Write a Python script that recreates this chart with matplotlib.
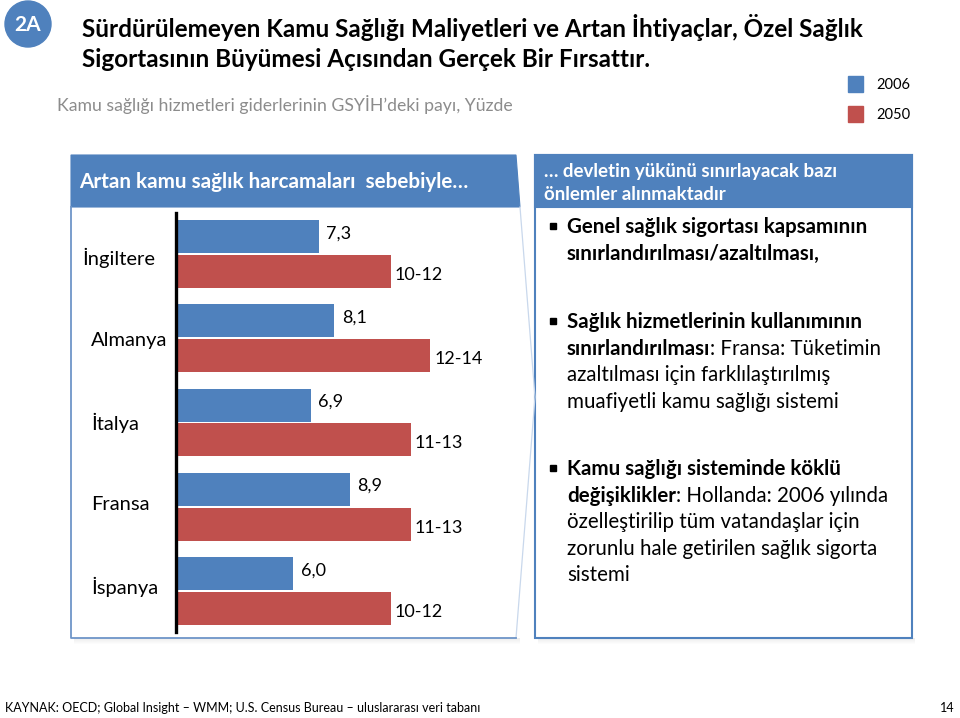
import matplotlib.pyplot as plt
from matplotlib.patches import Rectangle, Circle, Polygon
import numpy as np

plt.rcParams['font.family'] = ['Lato', 'DejaVu Sans']

# ====== data ======
countries = ["İngiltere", "Almanya", "İtalya", "Fransa", "İspanya"]
val_2006 = [7.3, 8.1, 6.9, 8.9, 6.0]
lbl_2006 = ["7,3", "8,1", "6,9", "8,9", "6,0"]
lo_2050 = [10, 12, 11, 11, 10]     # 2050 ranges -> bar drawn at midpoint
hi_2050 = [12, 14, 13, 13, 12]
years = ["2006", "2050"]

BLUE = "#4F81BD"
RED = "#C0504D"
W, H = 960, 718

fig = plt.figure(figsize=(W / 100, H / 100), dpi=100)
fig.patch.set_facecolor("white")

# full-page axes in pixel coordinates for all the decoration
bg = fig.add_axes([0, 0, 1, 1], zorder=0)
bg.set_xlim(0, W)
bg.set_ylim(H, 0)
bg.axis("off")

# ====== badge + title ======
bg.add_patch(Circle((28, 24), 23, color=BLUE))
bg.text(28, 25, "2A", color="white", fontsize=15, fontweight="bold",
        ha="center", va="center")
bg.text(82, 37, "Sürdürülemeyen Kamu Sağlığı Maliyetleri ve Artan İhtiyaçlar, Özel Sağlık",
        fontsize=17.5, fontweight="bold", va="baseline")
bg.text(82, 67, "Sigortasının Büyümesi Açısından Gerçek Bir Fırsattır.",
        fontsize=17.5, fontweight="bold", va="baseline")
bg.text(57, 104, "Kamu sağlığı hizmetleri giderlerinin GSYİH’deki payı, Yüzde",
        fontsize=12.7, color="#8C8C8C", va="center")

# ====== legend ======
for i, (yr, c) in enumerate(zip(years, [BLUE, RED])):
    y0 = 76 + i * 30
    bg.add_patch(Rectangle((848, y0), 15, 16, color=c))
    bg.text(876, y0 + 9, yr, fontsize=10.5, va="center")

# ====== panels ======
def shadow(x, y, w, h):
    for k in range(6):
        bg.add_patch(Rectangle((x + 3, y + h + k), w, 1, color="#000000",
                               alpha=0.07 * (6 - k) / 6, lw=0))

shadow(71, 155, 446, 483)
shadow(535, 155, 377, 483)

bg.add_patch(Polygon([(71, 207), (520, 207), (535, 397), (516, 638), (71, 638)],
                     closed=True, fc="white", ec="none"))
bg.plot([520, 535, 516], [207, 397, 638], color="#C9D8EC", lw=0.9)
bg.plot([71, 71, 516], [207, 638, 638], color="#6E95C8", lw=1.3)
bg.add_patch(Polygon([(71, 155), (516, 155), (520, 207), (71, 207)],
                     closed=True, fc=BLUE, ec=BLUE, lw=0.8))
bg.text(79, 182, "Artan kamu sağlık harcamaları  sebebiyle…", color="white",
        fontsize=14.9, fontweight="bold", va="center")

bg.add_patch(Rectangle((535, 155), 377, 483, fc="white", ec=BLUE, lw=1.5))
bg.add_patch(Rectangle((535, 155), 377, 52, fc=BLUE, ec=BLUE, lw=1.5))
bg.text(544, 171, "… devletin yükünü sınırlayacak bazı", color="white",
        fontsize=13.5, fontweight="bold", va="center")
bg.text(544, 194, "önlemler alınmaktadır", color="white",
        fontsize=13.5, fontweight="bold", va="center")

# ====== bullets (bold part, regular part) per line ======
bullets = [
    (233, [("Genel sağlık sigortası kapsamının", ""),
           ("sınırlandırılması/azaltılması,", "")]),
    (328, [("Sağlık hizmetlerinin kullanımının", ""),
           ("sınırlandırılması", ": Fransa: Tüketimin"),
           ("", "azaltılması için farklılaştırılmış"),
           ("", "muafiyetli kamu sağlığı sistemi")]),
    (475, [("Kamu sağlığı sisteminde köklü", ""),
           ("değişiklikler", ": Hollanda: 2006 yılında"),
           ("", "özelleştirilip tüm vatandaşlar için"),
           ("", "zorunlu hale getirilen sağlık sigorta"),
           ("", "sistemi")]),
]
FS_B = 14.8
for y_first, lines in bullets:
    bg.add_patch(Rectangle((550, y_first - 10), 6, 6, color="black"))
    for j, (b, r) in enumerate(lines):
        y = y_first + j * 26.6
        t = bg.text(567, y, b if b else r, fontsize=FS_B,
                    fontweight="bold" if b else "normal", va="baseline")
        if b and r:
            bg.annotate(r, xy=(1, 0), xycoords=t, va="bottom", ha="left",
                        fontsize=FS_B)

# ====== category labels ======
for i, name in enumerate(countries):
    bg.text(82 if i == 0 else 91, 258 + i * 82.3, name, fontsize=14.5, va="center")

# ====== footer ======
bg.text(5, 708, "KAYNAK: OECD; Global Insight – WMM; U.S. Census Bureau – uluslararası veri tabanı",
        fontsize=9, va="center")
bg.text(955, 708, "14", fontsize=9, va="center", ha="right")

# ====== bar chart ======
ax = fig.add_axes([176 / W, 1 - 632 / H, (495 - 176) / W, (632 - 213) / H], zorder=1)
ax.patch.set_alpha(0)
n = len(countries)
y = np.arange(n)
mid_2050 = [(a + b) / 2 for a, b in zip(lo_2050, hi_2050)]
lbl_2050 = [f"{a}-{b}" for a, b in zip(lo_2050, hi_2050)]
off, bh = 0.206, 0.39
ax.barh(y - off, val_2006, height=bh, color=BLUE)
ax.barh(y + off, mid_2050, height=bh, color=RED)
for i in range(n):
    ax.text(val_2006[i] + 0.38, y[i] - off - 0.04, lbl_2006[i], fontsize=13, va="center")
    ax.text(mid_2050[i] + 0.2, y[i] + off + 0.04, lbl_2050[i], fontsize=13, va="center")

ax.set_xlim(0, (495 - 176) / 19.55)
ax.set_ylim(n - 1 + 0.486, -0.486)
for s in ["top", "right", "bottom"]:
    ax.spines[s].set_visible(False)
ax.spines["left"].set_linewidth(2.4)
ax.spines["left"].set_color("black")
ax.set_xticks([])
ax.set_yticks([])

fig.savefig("out.png", dpi=100, facecolor="white")
